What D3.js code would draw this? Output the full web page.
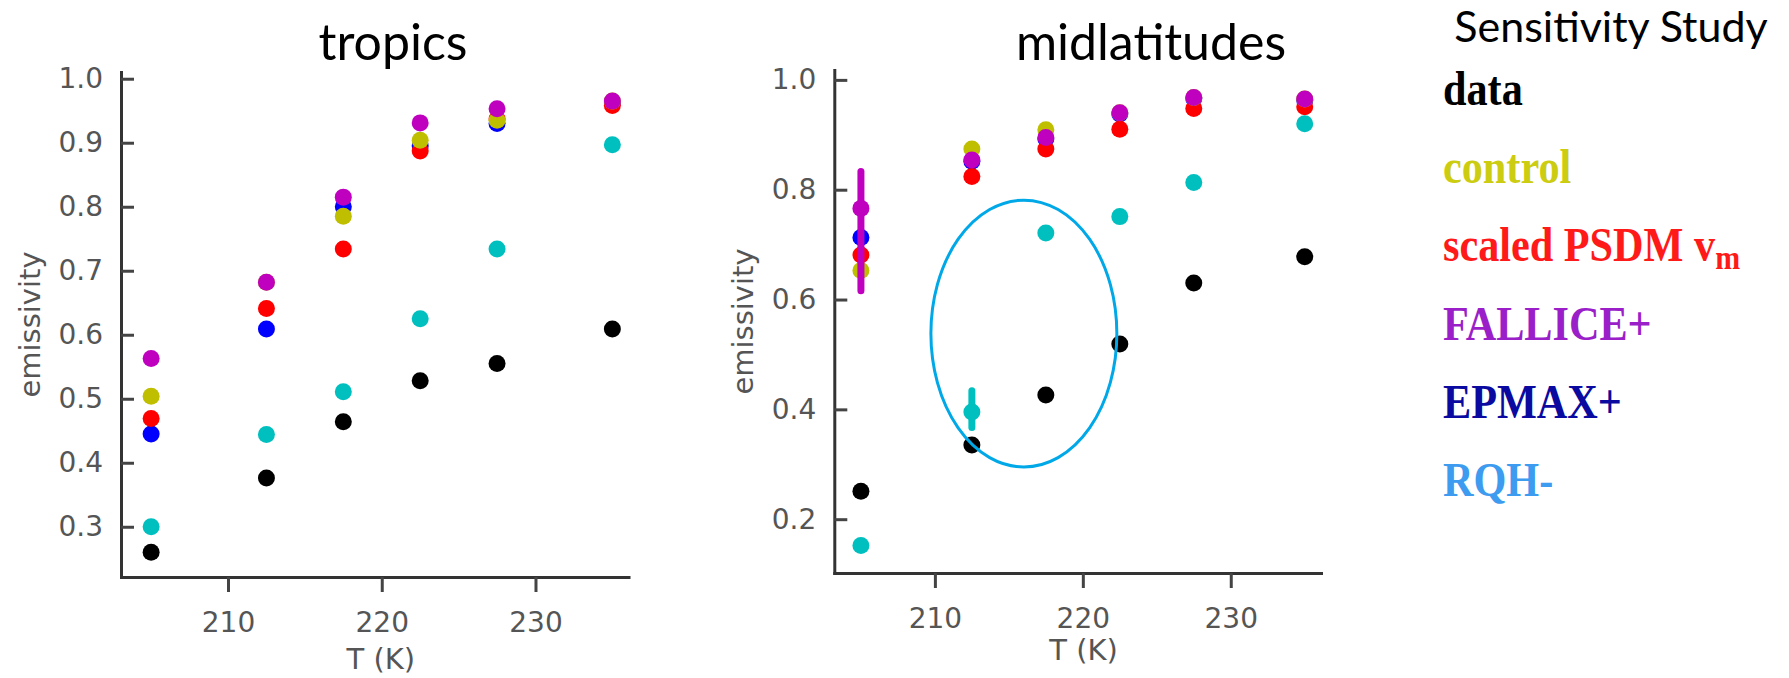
<!DOCTYPE html>
<html>
<head>
<meta charset="utf-8">
<script src="https://cdnjs.cloudflare.com/ajax/libs/d3/7.8.5/d3.min.js"></script>
<style>
  body { margin: 0; background: #fff; }
  .tick text { font-family: "DejaVu Sans", sans-serif; font-size: 28px; fill: #555; }
  .tick line { stroke: #444; stroke-width: 3; }
  .domain { stroke: #333; stroke-width: 3; stroke-linecap: square; }
</style>
</head>
<body>
<script>
var width = 1789;
var height = 678;

// temperature bins (K)
var temps = [205, 212.5, 217.5, 222.5, 227.5, 235];
var xTicks = [210, 220, 230];

// tropics emissivity
var tropData     = [0.260, 0.376, 0.464, 0.528, 0.555, 0.609];
var tropEpmax    = [0.445, 0.609, 0.800, 0.895, 0.930, 0.962];
var tropScaled   = [0.469, 0.641, 0.734, 0.887, 0.937, 0.958];
var tropControl  = [0.504, 0.682, 0.785, 0.904, 0.935, 0.965];
var tropRqh      = [0.300, 0.444, 0.511, 0.625, 0.734, 0.897];
var tropFallice  = [0.563, 0.682, 0.815, 0.931, 0.953, 0.965];
var tropTicks = [0.3, 0.4, 0.5, 0.6, 0.7, 0.8, 0.9, 1.0];

// midlatitudes emissivity
var midData     = [0.251, 0.335, 0.426, 0.519, 0.630, 0.678];
var midEpmax    = [0.713, 0.852, 0.893, 0.938, 0.966, 0.963];
var midScaled   = [0.681, 0.824, 0.874, 0.910, 0.948, 0.951];
var midControl  = [0.653, 0.874, 0.909, 0.940, 0.968, 0.965];
var midRqh      = [0.152, 0.395, 0.721, 0.751, 0.813, 0.920];
var midFallice  = [0.766, 0.854, 0.895, 0.940, 0.968, 0.965];
var midTicks = [0.2, 0.4, 0.6, 0.8, 1.0];

// midlatitude error bars
var midErrT = [205, 212.5];
var midErrSeries = ["FALLICE+", "RQH-"];
var midErrLo = [0.616, 0.367];
var midErrHi = [0.833, 0.434];

// highlighted region in midlatitudes (T range, emissivity range)
var ringT = [209.73, 222.3];
var ringE = [0.295, 0.781];

// legend
var legendLabels = ["data", "control", "scaled PSDM v", "FALLICE+", "EPMAX+", "RQH-"];
var legendSubs = ["", "", "m", "", "", ""];
var legendColors = ["#000000", "#cccc11", "#ff1a1a", "#9b1fc9", "#0a0aa0", "#3d9bf0"];

// marker colours, in draw order
var drawOrder = ["data", "EPMAX+", "scaled PSDM", "control", "RQH-", "FALLICE+"];
var markerColor = {
  "data": "#000000", "control": "#bfbf00", "scaled PSDM": "#ff0000",
  "FALLICE+": "#bf00bf", "EPMAX+": "#0000ff", "RQH-": "#00bfbf"
};

var panels = [
  { title: "tropics", titleX: 393,
    xDomain: [203.04, 236.05], xRange: [121, 628.5],
    yDomain: [0.2215, 1.0105], yRange: [577, 72],
    yTicks: tropTicks, labelOff: 0,
    series: { "data": tropData, "EPMAX+": tropEpmax, "scaled PSDM": tropScaled,
              "control": tropControl, "RQH-": tropRqh, "FALLICE+": tropFallice },
    errs: [] },
  { title: "midlatitudes", titleX: 1151,
    xDomain: [203.2, 236.1], xRange: [834.3, 1321],
    yDomain: [0.102, 1.018], yRange: [573, 70],
    yTicks: midTicks, labelOff: -5,
    series: { "data": midData, "EPMAX+": midEpmax, "scaled PSDM": midScaled,
              "control": midControl, "RQH-": midRqh, "FALLICE+": midFallice },
    errs: midErrT.map(function(t, i) {
      return { T: t, s: midErrSeries[i], lo: midErrLo[i], hi: midErrHi[i] };
    }) }
];

var svg = d3.select("body")
  .append("svg")
  .attr("width", width)
  .attr("height", height);

panels.forEach(function(p, pi) {
  var x = d3.scaleLinear().domain(p.xDomain).range(p.xRange);
  var y = d3.scaleLinear().domain(p.yDomain).range(p.yRange);
  var g = svg.append("g");

  g.append("g")
    .attr("transform", "translate(0," + p.yRange[0] + ")")
    .call(d3.axisBottom(x).tickValues(xTicks).tickFormat(d3.format("d"))
      .tickSizeInner(15).tickSizeOuter(0).tickPadding(20));

  g.append("g")
    .attr("transform", "translate(" + p.xRange[0] + ",0)")
    .call(d3.axisLeft(y).tickValues(p.yTicks).tickFormat(d3.format(".1f"))
      .tickSizeInner(-13).tickSizeOuter(0).tickPadding(18));

  // axis labels
  g.append("text")
    .attr("x", (p.xRange[0] + p.xRange[1]) / 2 + 6)
    .attr("y", p.yRange[0] + 92 + p.labelOff)
    .attr("text-anchor", "middle")
    .style("font-family", "DejaVu Sans").style("font-size", "29px").style("fill", "#555")
    .text("T (K)");

  g.append("text")
    .attr("transform", "translate(" + (p.xRange[0] - 81) + "," + ((p.yRange[0] + p.yRange[1]) / 2) + ") rotate(-90)")
    .attr("text-anchor", "middle")
    .style("font-family", "DejaVu Sans").style("font-size", "29px").style("fill", "#555")
    .text("emissivity");

  // title
  svg.append("text")
    .attr("x", p.titleX).attr("y", 60)
    .attr("text-anchor", "middle")
    .style("font-family", "Lato").style("font-size", "50px").style("fill", "#000")
    .text(p.title);

  drawOrder.forEach(function(name) {
    var vals = p.series[name];
    var col = markerColor[name];
    p.errs.filter(function(e) { return e.s == name; }).forEach(function(e) {
      g.append("line")
        .attr("x1", x(e.T)).attr("x2", x(e.T))
        .attr("y1", y(e.lo)).attr("y2", y(e.hi))
        .attr("stroke", col).attr("stroke-width", 7)
        .attr("stroke-linecap", "round");
    });
    g.selectAll(null)
      .data(temps)
      .enter()
      .append("circle")
      .attr("cx", function(d) { return x(d); })
      .attr("cy", function(d, i) { return y(vals[i]); })
      .attr("r", 8.5)
      .attr("fill", col);
  });

  if (pi == 1) {
    g.append("ellipse")
      .attr("cx", (x(ringT[0]) + x(ringT[1])) / 2)
      .attr("cy", (y(ringE[0]) + y(ringE[1])) / 2)
      .attr("rx", (x(ringT[1]) - x(ringT[0])) / 2)
      .attr("ry", (y(ringE[0]) - y(ringE[1])) / 2)
      .attr("fill", "none")
      .attr("stroke", "#00a8e8")
      .attr("stroke-width", 3);
  }
});

// legend
svg.append("text")
  .attr("x", 1611).attr("y", 42)
  .attr("text-anchor", "middle")
  .style("font-family", "Lato").style("font-size", "43px").style("fill", "#000")
  .text("Sensitivity Study");

var leg = svg.append("g");
legendLabels.forEach(function(lab, i) {
  var t = leg.append("text")
    .attr("transform", "translate(1443," + (105 + i * 78.2) + ") scale(0.88,1)")
    .style("font-family", "Liberation Serif").style("font-weight", "bold")
    .style("font-size", "48px").style("fill", legendColors[i])
    .text(lab);
  if (legendSubs[i]) {
    t.append("tspan")
      .attr("dy", 8)
      .style("font-size", "34px")
      .text(legendSubs[i]);
  }
});
</script>
</body>
</html>
